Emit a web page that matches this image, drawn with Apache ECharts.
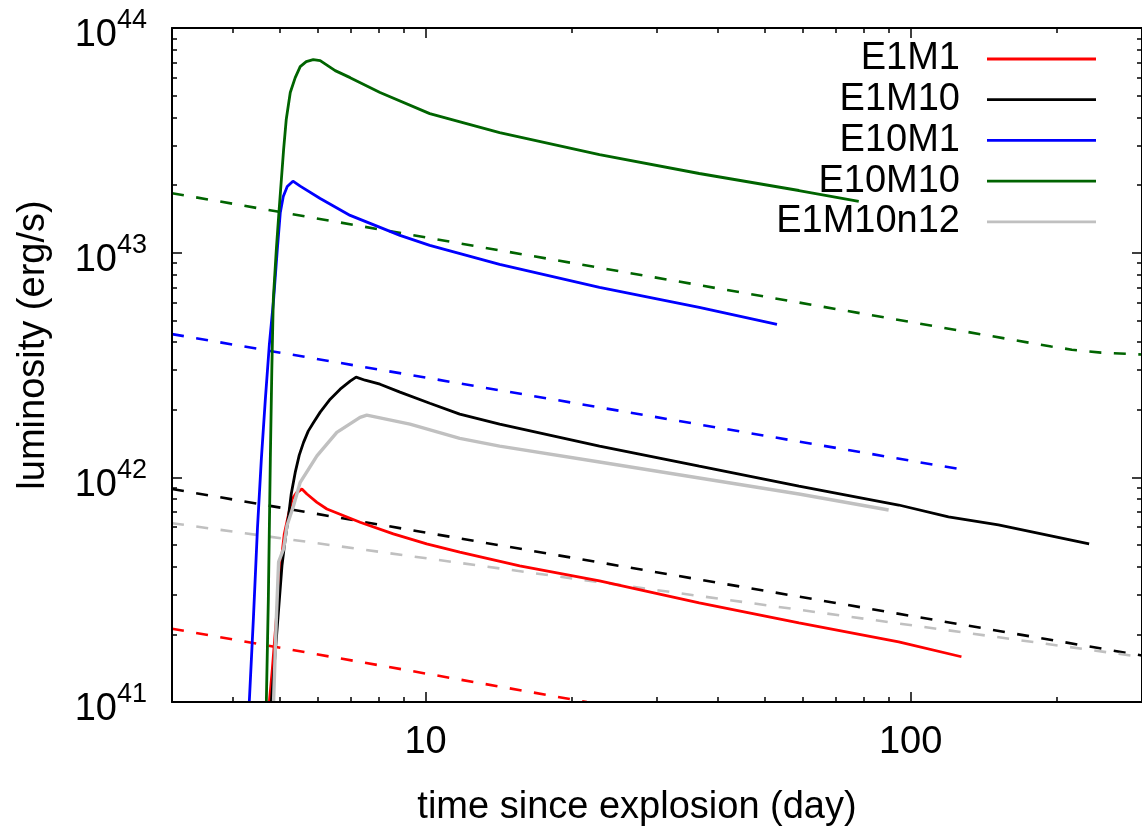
<!DOCTYPE html>
<html>
<head>
<meta charset="utf-8">
<script src="https://cdn.jsdelivr.net/npm/echarts@6/dist/echarts.min.js"></script>
<style>
html,body{margin:0;padding:0;background:#fff;}
#chart{width:1142px;height:832px;}
</style>
</head>
<body>
<div id="chart"></div>
<script>
// ---------------- data (time in days, luminosity in erg/s) ----------------
const seriesNames = ['E1M1', 'E1M10', 'E10M1', 'E10M10', 'E1M10n12'];
const seriesColors = ['#ff0000', '#000000', '#0000ff', '#006400', '#c0c0c0'];

// solid curves (model light curves)
const tE1M1 = [4.763, 4.831, 4.923, 5.017, 5.112, 5.235, 5.310, 5.411, 5.559, 5.692, 5.970, 6.259, 7.326, 8.579, 10.05, 11.76, 15.63, 22.83, 36.66, 58.85, 94.5, 127.3];
const lE1M1 = [1.0e41, 1.406e41, 2.351e41, 3.912e41, 5.598e41, 7.081e41, 8.009e41, 8.515e41, 8.872e41, 8.429e41, 7.742e41, 7.228e41, 6.31e41, 5.598e41, 5.053e41, 4.642e41, 4.034e41, 3.459e41, 2.762e41, 2.251e41, 1.854e41, 1.59e41];

const tE1M10 = [4.808, 4.923, 5.057, 5.136, 5.218, 5.284, 5.385, 5.489, 5.602, 5.728, 5.874, 6.063, 6.358, 6.666, 6.99, 7.19, 7.502, 8.054, 8.855, 10.2, 11.76, 14.21, 22.83, 36.66, 58.85, 94.5, 119.7, 151.7, 233.4];
const lE1M10 = [1.0e41, 1.911e41, 4.046e41, 5.318e41, 6.75e41, 8.429e41, 1.052e42, 1.256e42, 1.431e42, 1.606e42, 1.755e42, 1.951e42, 2.228e42, 2.469e42, 2.679e42, 2.791e42, 2.706e42, 2.598e42, 2.394e42, 2.138e42, 1.911e42, 1.725e42, 1.377e42, 1.122e42, 9.148e41, 7.531e41, 6.662e41, 6.138e41, 5.053e41];

const tE10M1 = [4.33, 4.415, 4.501, 4.585, 4.673, 4.763, 4.86, 4.946, 5.017, 5.088, 5.185, 5.327, 5.514, 6.063, 6.99, 8.855, 10.2, 14.21, 22.83, 36.66, 53.03];
const lE10M1 = [1.0e41, 2.351e41, 5.92e41, 1.206e42, 2.228e42, 3.911e42, 6.2e42, 1.034e43, 1.51e43, 1.779e43, 1.971e43, 2.08e43, 1.977e43, 1.743e43, 1.465e43, 1.194e43, 1.077e43, 8.872e42, 7.012e42, 5.713e42, 4.8e42];

const tE10M10 = [4.695, 4.74, 4.785, 4.819, 4.853, 4.923, 4.986, 5.096, 5.16, 5.26, 5.385, 5.514, 5.674, 5.866, 6.063, 6.51, 6.99, 8.054, 10.2, 14.21, 22.83, 36.66, 58.85, 78.18];
const lE10M10 = [1.0e41, 2.877e41, 1.206e42, 3.03e42, 6.2e42, 1.034e43, 1.527e43, 2.877e43, 3.913e43, 5.16e43, 6.013e43, 6.73e43, 7.081e43, 7.228e43, 7.155e43, 6.46e43, 6.013e43, 5.16e43, 4.159e43, 3.424e43, 2.734e43, 2.251e43, 1.891e43, 1.69e43];

const tE1M10n12 = [4.859, 4.923, 4.977, 5.096, 5.178, 5.342, 5.514, 5.970, 6.561, 7.326, 7.563, 9.284, 11.76, 14.21, 22.83, 36.66, 58.85, 90.1];
const lE1M10n12 = [1.0e41, 2.351e41, 4.203e41, 4.8e41, 6.094e41, 7.477e41, 9.502e41, 1.247e42, 1.585e42, 1.848e42, 1.891e42, 1.725e42, 1.491e42, 1.377e42, 1.17e42, 9.929e41, 8.429e41, 7.155e41];

// dashed curves (analytic estimates)
const tE1M1d = [3, 21.5];
const lE1M1d = [2.12e41, 1.0e41];
const tE1M10d = [3, 300];
const lE1M10d = [8.87e41, 1.61e41];
const tE10M1d = [3, 125.6];
const lE10M1d = [4.34e42, 1.09e42];
const tE10M10d = [3, 195, 215, 229, 247, 300];
const lE10M10d = [1.84e43, 3.82e42, 3.70e42, 3.65e42, 3.59e42, 3.52e42];
const tE1M10n12d = [3, 300];
const lE1M10n12d = [6.25e41, 1.585e41];

// axes
const xRange = [3, 300];
const yRange = [1e41, 1e44];
const xMajorTicks = [10, 100];
const xMinorTicks = [4, 5, 6, 7, 8, 9, 20, 30, 40, 50, 60, 70, 80, 90, 200];
const yMajorExponents = [41, 42, 43, 44];
const yMinorMultipliers = [2, 3, 4, 5, 6, 7, 8, 9];
const xTitle = 'time since explosion (day)';
const yTitle = 'luminosity (erg/s)';

// ---------------- chart ----------------
const FONT = '"Liberation Sans", Arial, Helvetica, sans-serif';
const lg = Math.log10;
const yMinorTicks = [];
for (let e = 41; e < 44; e++) yMinorMultipliers.forEach(m => yMinorTicks.push(lg(m) + e));

const solid = [[tE1M1, lE1M1], [tE1M10, lE1M10], [tE10M1, lE10M1], [tE10M10, lE10M10], [tE1M10n12, lE1M10n12]];
const dashed = [[tE1M1d, lE1M1d], [tE1M10d, lE1M10d], [tE10M1d, lE10M1d], [tE10M10d, lE10M10d], [tE1M10n12d, lE1M10n12d]];

function mk(name, ts, ls, color, width, dash, z) {
  return {
    type: 'line', name: name, xAxisIndex: 0, yAxisIndex: 0,
    data: ts.map((t, i) => [t, ls[i]]),
    symbol: 'none', showSymbol: false, smooth: false, clip: true, silent: true,
    lineStyle: { color: color, width: width, type: dash ? [12, 12.5] : 'solid' },
    itemStyle: { color: color },
    emphasis: { disabled: true }, animation: false, z: z
  };
}
const series = [];
seriesNames.forEach((n, i) => {
  series.push(mk(n + ' (estimate)', dashed[i][0], dashed[i][1], seriesColors[i], 2.6, true, 2));
});
seriesNames.forEach((n, i) => {
  series.push(mk(n, solid[i][0], solid[i][1], seriesColors[i], i === 4 ? 3.4 : 2.8, false, 3));
});

const axisLineStyle = { color: '#000', width: 2 };
function decoX(pos, vals, len, withLine, withLabel) {
  const a = {
    type: 'value', gridIndex: 0, position: pos, min: lg(xRange[0]), max: lg(xRange[1]),
    axisLine: { show: withLine, onZero: false, lineStyle: axisLineStyle },
    axisTick: { show: true, inside: true, length: len, lineStyle: { color: '#000', width: 1.5 }, customValues: vals },
    axisLabel: { show: withLabel },
    splitLine: { show: false }, silent: true, z: 5
  };
  if (withLabel) {
    a.axisLabel = { show: true, customValues: vals, margin: 22, color: '#000', fontSize: 38, fontFamily: FONT,
      formatter: v => String(Math.round(Math.pow(10, v))) };
    a.name = xTitle; a.nameLocation = 'middle'; a.nameGap = 87;
    a.nameTextStyle = { fontSize: 38, fontFamily: FONT, color: '#000', padding: [0, 40, 0, 0] };
  }
  return a;
}
function decoY(pos, vals, len, withLine, withLabel) {
  const a = {
    type: 'value', gridIndex: 0, position: pos, min: yMajorExponents[0], max: yMajorExponents[yMajorExponents.length - 1],
    axisLine: { show: withLine, onZero: false, lineStyle: axisLineStyle },
    axisTick: { show: true, inside: true, length: len, lineStyle: { color: '#000', width: 1.5 }, customValues: vals },
    axisLabel: { show: withLabel },
    splitLine: { show: false }, silent: true, z: 5
  };
  if (withLabel) {
    a.axisLabel = { show: true, customValues: vals, margin: 25, color: '#000', padding: [16, 0, 0, 0],
      formatter: v => '{b|10}{s|' + Math.round(v) + '}',
      rich: {
        b: { fontSize: 38, fontFamily: FONT, color: '#000' },
        s: { fontSize: 27, fontFamily: FONT, color: '#000', padding: [0, 0, 30, 0] }
      } };
    a.name = yTitle; a.nameLocation = 'middle'; a.nameGap = 119;
    a.nameTextStyle = { fontSize: 38, fontFamily: FONT, color: '#000', padding: [0, 0, 0, 40] };
  }
  return a;
}

const xMaj = xMajorTicks.map(lg), xMin = xMinorTicks.map(lg);
const option = {
  animation: false,
  backgroundColor: '#fff',
  grid: { left: 172, top: 28, width: 972, height: 675, containLabel: false },
  legend: {
    data: seriesNames, orient: 'vertical', right: 41, top: 34, align: 'right',
    icon: 'rect', itemWidth: 109, itemHeight: 2.8, itemGap: 0.7, selectedMode: false,
    textStyle: { fontSize: 38, fontFamily: FONT, color: '#000', lineHeight: 40, padding: [0, 22, 0, 0] }
  },
  xAxis: [
    { type: 'log', logBase: 10, min: xRange[0], max: xRange[1], show: false, gridIndex: 0 },
    decoX('bottom', xMaj, 10, true, true),
    decoX('bottom', xMin, 5, false, false),
    decoX('top', xMaj, 10, true, false),
    decoX('top', xMin, 5, false, false)
  ],
  yAxis: [
    { type: 'log', logBase: 10, min: yRange[0], max: yRange[1], show: false, gridIndex: 0 },
    decoY('left', yMajorExponents, 10, true, true),
    decoY('left', yMinorTicks, 5, false, false),
    decoY('right', yMajorExponents, 10, true, false),
    decoY('right', yMinorTicks, 5, false, false)
  ],
  series: series
};
const chart = echarts.init(document.getElementById('chart'), null, { renderer: 'canvas' });
chart.setOption(option);
</script>
</body>
</html>
